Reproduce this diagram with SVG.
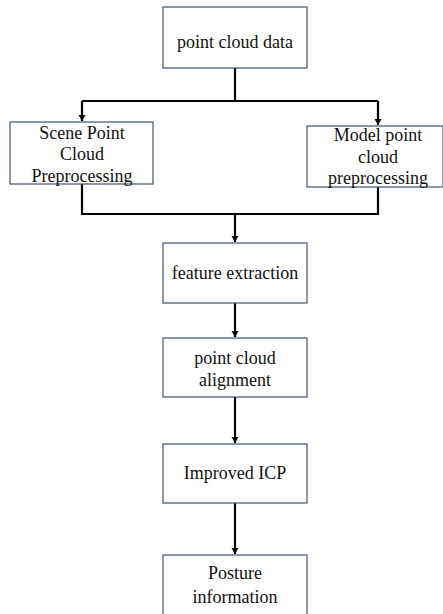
<svg xmlns="http://www.w3.org/2000/svg" width="443" height="614" viewBox="0 0 443 614">
<style>
.box{fill:#ffffff;stroke:#44546a;stroke-width:1.2}
.t{font-family:'Liberation Serif','Times New Roman','DejaVu Serif',serif;font-size:18px;fill:#111;text-anchor:middle}
.ln{fill:none;stroke:#000;stroke-width:2.2}
</style>
<defs>
<marker id="a" markerWidth="8" markerHeight="8" refX="7" refY="4" orient="auto" markerUnits="userSpaceOnUse">
<path d="M1,0.5 L7,4 L1,7.5 Z" fill="#000"/>
</marker>
</defs>
<rect width="443" height="614" fill="#fff"/>
<g id="connectors">
<path class="ln" d="M235,68 V101"/>
<path class="ln" d="M82,101 H378"/>
<path class="ln" d="M82,101 V121" marker-end="url(#a)"/>
<path class="ln" d="M378,101 V125" marker-end="url(#a)"/>
<path class="ln" d="M82,184 V214 H378 V187"/>
<path class="ln" d="M235,214 V242" marker-end="url(#a)"/>
<path class="ln" d="M235,303 V337" marker-end="url(#a)"/>
<path class="ln" d="M235,397 V443" marker-end="url(#a)"/>
<path class="ln" d="M235,503 V554" marker-end="url(#a)"/>
</g>
<g id="n1"><rect class="box" x="163" y="7" width="144" height="61"/><text class="t" x="235" y="48">point cloud data</text></g>
<g id="n2"><rect class="box" x="10" y="122" width="143" height="62"/>
<text class="t" x="82" y="139">Scene Point</text><text class="t" x="82" y="160">Cloud</text><text class="t" x="82" y="182">Preprocessing</text></g>
<g id="n3"><rect class="box" x="307" y="126" width="136" height="61"/>
<text class="t" x="378" y="141">Model point</text><text class="t" x="378" y="163">cloud</text><text class="t" x="378" y="184">preprocessing</text></g>
<g id="n4"><rect class="box" x="163" y="243" width="144" height="60"/><text class="t" x="235" y="279">feature extraction</text></g>
<g id="n5"><rect class="box" x="163" y="338" width="144" height="59"/>
<text class="t" x="235" y="364">point cloud</text><text class="t" x="235" y="386">alignment</text></g>
<g id="n6"><rect class="box" x="163" y="444" width="144" height="59"/><text class="t" x="235" y="479">Improved ICP</text></g>
<g id="n7"><rect class="box" x="163" y="555" width="144" height="70"/>
<text class="t" x="235" y="579">Posture</text><text class="t" x="235" y="603">information</text></g>
</svg>
